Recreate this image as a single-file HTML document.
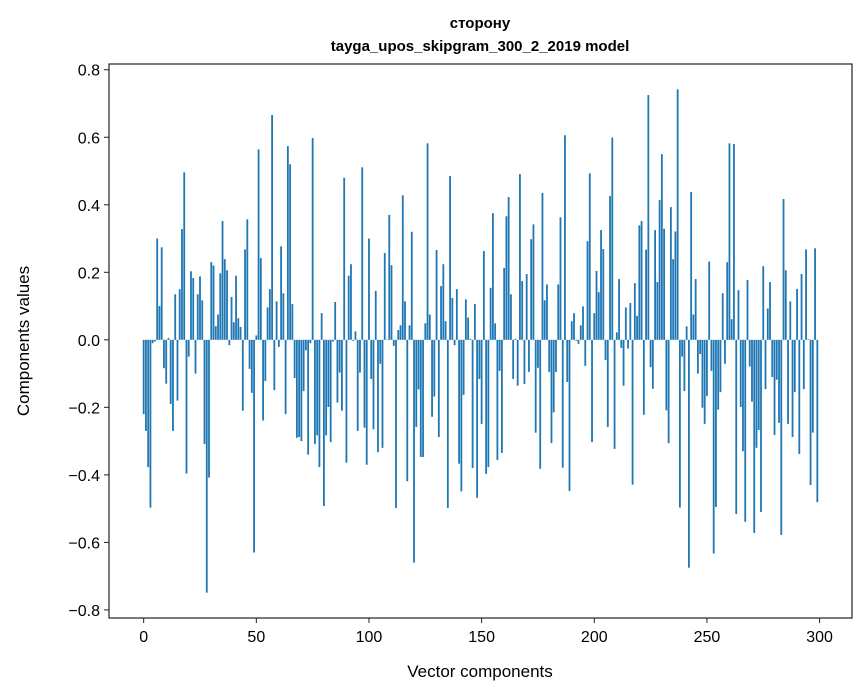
<!DOCTYPE html>
<html><head><meta charset="utf-8"><style>
html,body{margin:0;padding:0;background:#fff;}
svg{display:block;font-family:"Liberation Sans","DejaVu Sans",sans-serif;}
</style></head><body>
<svg id="chart" width="867" height="696" viewBox="0 0 867 696">
<text x="480" y="28" text-anchor="middle" font-size="15" font-weight="bold" font-family="Liberation Sans, DejaVu Sans, sans-serif">сторону</text>
<text x="480" y="51" text-anchor="middle" font-size="15" font-weight="bold">tayga_upos_skipgram_300_2_2019 model</text>
<g id="bars"></g>
<g id="axes"></g>
<rect x="109" y="64" width="743" height="554" fill="none" stroke="#222" stroke-width="1.2"/>
<text x="480" y="677" text-anchor="middle" font-size="17">Vector components</text>
<text transform="translate(29,341) rotate(-90)" text-anchor="middle" font-size="17">Components values</text>
</svg>
<script>
const values = [
-0.22,-0.27,-0.377,-0.497,-0.01,-0.005,0.30,0.10,0.274,-0.084,
-0.13,0.005,-0.19,-0.27,0.135,-0.18,0.15,0.328,0.496,-0.396,
-0.05,0.203,0.183,-0.10,0.135,0.188,0.117,-0.309,-0.749,-0.408,
0.23,0.22,0.04,0.075,0.197,0.352,0.239,0.206,-0.016,0.127,
0.052,0.19,0.064,0.038,-0.21,0.268,0.357,-0.086,-0.157,-0.63,
0.013,0.564,0.242,-0.239,-0.122,0.096,0.15,0.666,-0.149,0.114,
-0.021,0.277,0.138,-0.22,0.574,0.52,0.106,-0.113,-0.29,-0.288,
-0.30,-0.152,-0.031,-0.34,-0.01,0.598,-0.309,-0.283,-0.377,0.079,
-0.492,-0.283,-0.199,-0.303,-0.005,0.112,-0.186,-0.097,-0.21,0.48,
-0.364,0.19,0.224,-0.003,0.025,-0.27,-0.097,0.511,-0.26,-0.37,
0.30,-0.116,-0.265,0.145,-0.333,-0.071,-0.32,0.257,0.001,0.37,
0.221,-0.018,-0.498,0.029,0.043,0.428,0.114,-0.419,0.043,0.32,
-0.66,-0.258,-0.147,-0.347,-0.347,0.049,0.582,0.075,-0.228,-0.168,
0.266,-0.288,0.159,0.224,0.055,-0.498,0.485,0.124,-0.016,0.15,
-0.367,-0.449,-0.163,0.12,0.066,0.003,-0.38,0.106,-0.468,-0.116,
-0.249,0.263,-0.397,-0.377,0.154,0.375,0.049,-0.356,-0.092,-0.335,
0.213,0.366,0.423,0.135,-0.116,0.003,-0.136,0.491,0.174,-0.131,
0.195,-0.095,0.298,0.342,-0.275,-0.083,-0.382,0.435,0.117,0.164,
-0.095,-0.306,-0.215,-0.095,0.164,0.363,-0.379,0.606,-0.125,-0.448,
0.055,0.079,-0.003,-0.012,0.043,0.099,-0.077,0.292,0.493,-0.303,
0.079,0.204,0.141,0.325,0.269,-0.06,-0.258,0.426,0.599,-0.323,
0.022,0.18,-0.024,-0.136,0.096,-0.026,0.109,-0.429,0.168,0.071,
0.339,0.352,-0.222,0.267,0.725,-0.081,-0.145,0.325,0.171,0.414,
0.55,0.329,-0.209,-0.306,0.393,0.239,0.321,0.742,-0.497,-0.05,
-0.152,0.04,-0.675,0.438,0.075,0.18,-0.1,-0.042,-0.201,-0.249,
-0.166,0.232,-0.092,-0.633,-0.495,-0.207,-0.155,0.138,-0.071,0.23,
0.582,0.061,0.58,-0.516,0.147,-0.199,-0.33,-0.539,0.177,-0.079,
-0.183,-0.572,-0.32,-0.267,-0.51,0.218,-0.146,0.093,0.171,-0.11,
-0.282,-0.118,-0.246,-0.578,0.417,0.206,-0.249,0.114,-0.288,-0.155,
0.151,-0.338,0.195,-0.146,0.268,0.002,-0.43,-0.275,0.271,-0.481
];
const xTicks = [0,50,100,150,200,250,300];
const yTicks = [-0.8,-0.6,-0.4,-0.2,0.0,0.2,0.4,0.6,0.8];
const yTickLabels = ["\u22120.8","\u22120.6","\u22120.4","\u22120.2","0.0","0.2","0.4","0.6","0.8"];

const NS = "http://www.w3.org/2000/svg";
const X0 = 109, X1 = 852, Y0 = 64, Y1 = 618;
const xmin = -15.39, xmax = 314.39, ymin = -0.824, ymax = 0.817;
function xs(v){ return X0 + (v - xmin) / (xmax - xmin) * (X1 - X0); }
function ys(v){ return Y1 - (v - ymin) / (ymax - ymin) * (Y1 - Y0); }

const barsG = document.getElementById('bars');
const bw = xs(0.8) - xs(0);
values.forEach((v, i) => {
  const r = document.createElementNS(NS, 'rect');
  const y = Math.min(ys(v), ys(0));
  const h = Math.abs(ys(v) - ys(0));
  r.setAttribute('x', xs(i) - bw / 2);
  r.setAttribute('y', y);
  r.setAttribute('width', bw);
  r.setAttribute('height', Math.max(h, 0.01));
  r.setAttribute('fill', '#1f77b4');
  
  
  barsG.appendChild(r);
});

const axesG = document.getElementById('axes');
xTicks.forEach(t => {
  const x = xs(t);
  const l = document.createElementNS(NS, 'line');
  l.setAttribute('x1', x); l.setAttribute('x2', x);
  l.setAttribute('y1', Y1); l.setAttribute('y2', Y1 + 5);
  l.setAttribute('stroke', '#222'); l.setAttribute('stroke-width', '1');
  
  
  axesG.appendChild(l);
  const tx = document.createElementNS(NS, 'text');
  tx.setAttribute('x', x); tx.setAttribute('y', Y1 + 24);
  tx.setAttribute('text-anchor', 'middle'); tx.setAttribute('font-size', '16');
  tx.textContent = String(t);
  
  
  axesG.appendChild(tx);
});
yTicks.forEach((t, k) => {
  const y = ys(t);
  const l = document.createElementNS(NS, 'line');
  l.setAttribute('x1', X0 - 5); l.setAttribute('x2', X0);
  l.setAttribute('y1', y); l.setAttribute('y2', y);
  l.setAttribute('stroke', '#222'); l.setAttribute('stroke-width', '1');
  
  
  axesG.appendChild(l);
  const tx = document.createElementNS(NS, 'text');
  tx.setAttribute('x', X0 - 9); tx.setAttribute('y', y + 6);
  tx.setAttribute('text-anchor', 'end'); tx.setAttribute('font-size', '16');
  tx.textContent = yTickLabels[k];
  
  
  axesG.appendChild(tx);
});
</script>
</body></html>
